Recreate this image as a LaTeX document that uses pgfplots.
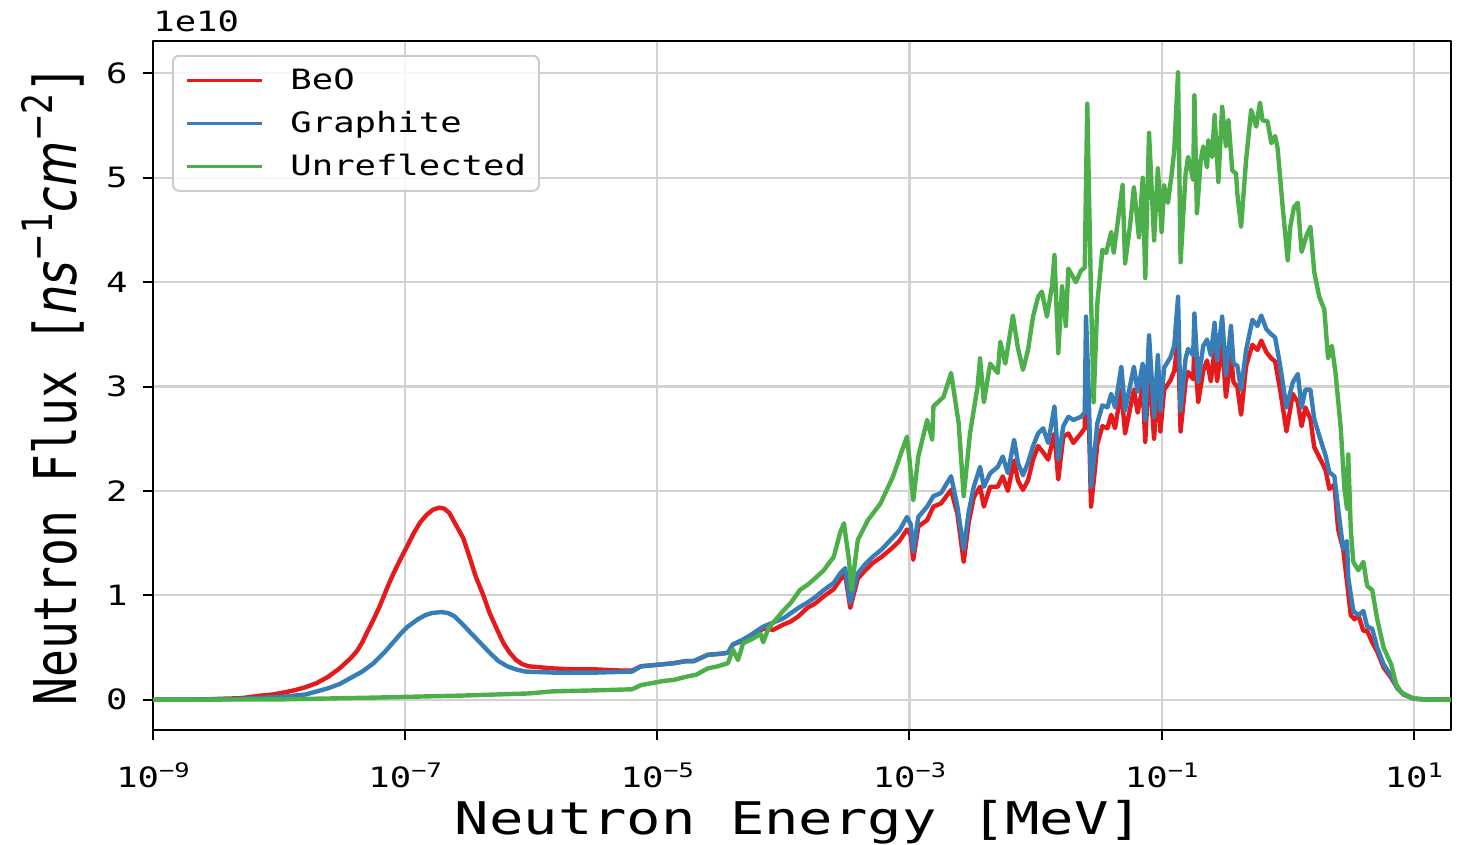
\documentclass[border=0pt]{standalone}
\usepackage{fontspec}
\setmainfont{DejaVu Sans Mono}[FakeStretch=1.27]
\newfontfamily\ylfont{DejaVu Sans Mono}
\newfontfamily\djs{DejaVu Sans}
\usepackage{pgfplots}
\pgfplotsset{compat=1.18}
\definecolor{cbeo}{HTML}{E41A1C}
\definecolor{cgra}{HTML}{377EB8}
\definecolor{cunr}{HTML}{4DAF4A}
\newcommand\pw[1]{10\raisebox{5pt}{\fontsize{10}{10}\selectfont #1}}
\newcommand\ysup[1]{\raisebox{0.42em}{\fontsize{16.5}{16.5}\selectfont\djs #1}}

\pgfplotstableread{
lx y
-9.00 0
-8.60 0.003
-8.30 0.015
-8.14 0.04
-8.05 0.05
-7.96 0.07
-7.88 0.09
-7.79 0.12
-7.70 0.16
-7.61 0.22
-7.52 0.30
-7.43 0.40
-7.38 0.47
-7.34 0.55
-7.30 0.65
-7.25 0.77
-7.20 0.90
-7.15 1.05
-7.10 1.19
-7.04 1.34
-6.98 1.48
-6.93 1.60
-6.88 1.70
-6.83 1.77
-6.78 1.82
-6.73 1.84
-6.69 1.83
-6.65 1.79
-6.60 1.68
-6.54 1.55
-6.49 1.37
-6.44 1.18
-6.38 1.00
-6.33 0.83
-6.27 0.67
-6.22 0.54
-6.17 0.45
-6.12 0.38
-6.07 0.34
-6.02 0.32
-5.83 0.30
-5.65 0.29
-5.48 0.29
-5.30 0.28
-5.20 0.28
-5.13 0.32
-4.95 0.34
-4.87 0.35
-4.77 0.37
-4.71 0.37
-4.60 0.43
-4.50 0.44
-4.44 0.45
-4.40 0.53
-4.33 0.56
-4.26 0.61
-4.16 0.68
-4.08 0.67
-4.00 0.72
-3.94 0.75
-3.88 0.80
-3.81 0.88
-3.75 0.92
-3.68 0.99
-3.60 1.06
-3.55 1.15
-3.51 1.20
-3.47 0.88
-3.41 1.16
-3.35 1.24
-3.29 1.31
-3.22 1.37
-3.15 1.44
-3.08 1.52
-3.02 1.63
-2.99 1.58
-2.97 1.34
-2.93 1.66
-2.86 1.72
-2.81 1.85
-2.75 1.88
-2.67 2.01
-2.62 1.78
-2.57 1.32
-2.53 1.70
-2.49 1.94
-2.44 2.04
-2.41 1.85
-2.36 2.04
-2.30 2.04
-2.26 2.14
-2.22 2.00
-2.17 2.29
-2.14 2.10
-2.10 2.01
-2.06 2.10
-2.02 2.30
-1.98 2.43
-1.94 2.37
-1.90 2.30
-1.85 2.55
-1.82 2.11
-1.78 2.52
-1.74 2.55
-1.70 2.46
-1.64 2.55
-1.61 2.60
-1.60 3.20
-1.58 2.80
-1.56 1.85
-1.53 2.20
-1.51 2.45
-1.47 2.62
-1.43 2.60
-1.40 2.73
-1.37 2.60
-1.32 2.97
-1.29 2.55
-1.22 2.97
-1.19 2.75
-1.15 3.00
-1.13 2.47
-1.10 3.20
-1.06 2.50
-1.03 3.08
-1.01 2.57
-0.98 2.97
-0.93 3.06
-0.90 3.15
-0.87 3.45
-0.85 2.57
-0.81 3.05
-0.79 3.14
-0.75 3.07
-0.74 3.40
-0.71 2.85
-0.67 3.15
-0.64 3.25
-0.61 3.05
-0.58 3.35
-0.56 3.05
-0.52 3.42
-0.49 2.90
-0.45 3.30
-0.43 3.04
-0.40 3.00
-0.37 2.73
-0.33 3.20
-0.28 3.40
-0.24 3.35
-0.21 3.44
-0.17 3.33
-0.13 3.27
-0.10 3.24
-0.06 2.97
-0.01 2.57
0.04 2.93
0.08 2.85
0.11 2.62
0.14 2.80
0.18 2.69
0.21 2.42
0.26 2.30
0.30 2.20
0.33 2.02
0.37 2.06
0.40 1.63
0.44 1.44
0.47 1.13
0.50 0.81
0.53 0.77
0.56 0.81
0.60 0.66
0.63 0.66
0.67 0.55
0.71 0.46
0.76 0.31
0.82 0.21
0.87 0.11
0.92 0.05
1.00 0.01
1.10 0.002
1.30 0.0
}\beo

\pgfplotstableread{
lx y
-9.00 0
-8.60 0.002
-8.30 0.008
-7.96 0.03
-7.79 0.05
-7.61 0.11
-7.52 0.15
-7.43 0.21
-7.34 0.27
-7.25 0.35
-7.16 0.46
-7.08 0.57
-7.03 0.64
-6.98 0.70
-6.90 0.77
-6.84 0.81
-6.79 0.83
-6.71 0.84
-6.66 0.83
-6.61 0.80
-6.55 0.73
-6.48 0.64
-6.40 0.54
-6.33 0.45
-6.26 0.37
-6.19 0.32
-6.12 0.29
-6.05 0.27
-5.83 0.26
-5.48 0.26
-5.20 0.27
-5.13 0.32
-4.95 0.34
-4.87 0.35
-4.77 0.37
-4.71 0.37
-4.60 0.43
-4.50 0.44
-4.44 0.45
-4.40 0.53
-4.33 0.57
-4.26 0.62
-4.16 0.70
-4.08 0.74
-4.00 0.78
-3.94 0.83
-3.88 0.88
-3.81 0.93
-3.75 0.98
-3.68 1.05
-3.60 1.12
-3.55 1.21
-3.51 1.26
-3.47 0.93
-3.41 1.21
-3.35 1.30
-3.29 1.37
-3.22 1.44
-3.15 1.53
-3.08 1.62
-3.02 1.75
-2.99 1.68
-2.97 1.42
-2.93 1.75
-2.86 1.85
-2.81 1.95
-2.75 1.98
-2.67 2.14
-2.62 1.85
-2.57 1.44
-2.53 1.80
-2.49 2.04
-2.44 2.23
-2.41 2.04
-2.36 2.17
-2.30 2.23
-2.26 2.33
-2.22 2.17
-2.17 2.49
-2.14 2.27
-2.10 2.15
-2.06 2.27
-2.02 2.43
-1.98 2.55
-1.94 2.60
-1.90 2.46
-1.85 2.81
-1.82 2.30
-1.78 2.62
-1.74 2.71
-1.70 2.68
-1.64 2.71
-1.61 2.75
-1.60 3.67
-1.58 3.00
-1.56 2.04
-1.53 2.40
-1.51 2.65
-1.47 2.82
-1.43 2.80
-1.40 2.93
-1.37 2.80
-1.32 3.19
-1.29 2.77
-1.22 3.19
-1.19 2.95
-1.15 3.22
-1.13 2.68
-1.10 3.49
-1.06 2.71
-1.03 3.30
-1.01 2.77
-0.98 3.18
-0.93 3.28
-0.90 3.39
-0.87 3.86
-0.85 2.77
-0.81 3.27
-0.79 3.36
-0.75 3.30
-0.74 3.70
-0.71 3.04
-0.67 3.39
-0.64 3.45
-0.61 3.30
-0.58 3.61
-0.56 3.25
-0.52 3.67
-0.49 3.11
-0.45 3.58
-0.43 3.22
-0.40 3.20
-0.37 2.97
-0.33 3.35
-0.28 3.64
-0.24 3.58
-0.21 3.68
-0.17 3.55
-0.13 3.50
-0.10 3.47
-0.06 3.20
-0.01 2.80
0.04 3.04
0.08 3.12
0.11 2.80
0.14 2.97
0.18 2.97
0.21 2.69
0.26 2.49
0.30 2.34
0.33 2.18
0.37 2.14
0.40 1.83
0.44 1.44
0.47 1.52
0.48 1.17
0.52 0.85
0.56 0.81
0.60 0.85
0.63 0.70
0.67 0.68
0.71 0.50
0.76 0.34
0.82 0.23
0.87 0.11
0.92 0.05
1.00 0.01
1.10 0.002
1.30 0.0
}\gra

\pgfplotstableread{
lx y
-9.00 0
-8.00 0.003
-7.25 0.02
-6.54 0.04
-6.02 0.06
-5.83 0.08
-5.48 0.09
-5.20 0.10
-5.13 0.14
-4.95 0.18
-4.87 0.19
-4.77 0.22
-4.69 0.24
-4.60 0.30
-4.52 0.32
-4.44 0.35
-4.40 0.48
-4.36 0.38
-4.32 0.54
-4.25 0.58
-4.18 0.63
-4.16 0.55
-4.12 0.68
-4.08 0.74
-4.01 0.84
-3.94 0.93
-3.87 1.05
-3.81 1.10
-3.76 1.15
-3.68 1.24
-3.60 1.37
-3.55 1.60
-3.52 1.69
-3.48 1.34
-3.46 1.05
-3.41 1.53
-3.33 1.72
-3.23 1.88
-3.13 2.14
-3.07 2.35
-3.02 2.52
-3.00 2.30
-2.97 1.91
-2.93 2.33
-2.86 2.68
-2.82 2.49
-2.81 2.81
-2.73 2.90
-2.67 3.13
-2.61 2.65
-2.57 1.95
-2.52 2.55
-2.46 3.00
-2.44 3.27
-2.41 2.85
-2.36 3.22
-2.30 3.13
-2.28 3.43
-2.24 3.22
-2.18 3.68
-2.14 3.37
-2.10 3.16
-2.06 3.35
-2.02 3.67
-1.98 3.86
-1.95 3.91
-1.91 3.67
-1.87 3.96
-1.85 4.26
-1.82 3.32
-1.79 3.96
-1.76 3.58
-1.74 4.13
-1.68 4.00
-1.64 4.11
-1.61 4.14
-1.59 5.71
-1.56 3.86
-1.54 2.85
-1.51 3.80
-1.47 4.31
-1.44 4.28
-1.40 4.48
-1.38 4.28
-1.31 4.93
-1.29 4.18
-1.25 4.55
-1.22 4.91
-1.18 4.43
-1.15 5.00
-1.13 4.04
-1.10 5.43
-1.06 4.40
-1.03 5.09
-1.00 4.48
-0.98 4.93
-0.95 4.76
-0.92 5.04
-0.90 5.26
-0.87 6.01
-0.85 4.19
-0.81 5.04
-0.79 5.20
-0.75 4.98
-0.74 5.79
-0.72 4.66
-0.69 5.17
-0.67 5.30
-0.64 5.10
-0.63 5.36
-0.60 5.20
-0.58 5.60
-0.55 4.96
-0.52 5.68
-0.49 5.30
-0.47 5.55
-0.44 5.07
-0.41 5.04
-0.40 4.85
-0.37 4.53
-0.33 5.17
-0.29 5.65
-0.25 5.49
-0.22 5.72
-0.20 5.55
-0.16 5.54
-0.13 5.33
-0.10 5.40
-0.08 5.28
-0.04 4.72
0.00 4.21
0.02 4.53
0.05 4.72
0.08 4.76
0.11 4.29
0.15 4.45
0.18 4.53
0.21 4.10
0.25 3.86
0.29 3.74
0.32 3.27
0.35 3.39
0.38 3.12
0.42 2.61
0.45 2.02
0.47 1.83
0.48 2.35
0.50 1.63
0.52 1.32
0.56 1.24
0.60 1.32
0.63 1.09
0.67 1.05
0.71 0.77
0.76 0.50
0.82 0.34
0.86 0.15
0.90 0.07
1.00 0.01
1.10 0.002
1.30 0.0
}\unr

\begin{document}
\begin{tikzpicture}
\path[use as bounding box] (0,0) rectangle (734pt,422.5pt);
\begin{axis}[
  at={(76.5pt,57.5pt)}, anchor=south west,
  scale only axis, width=649pt, height=344.5pt,
  xmin=-9, xmax=1.295, ymin=-0.29, ymax=6.31,
  clip mode=individual,
  xtick={-9,-7,-5,-3,-1,1},
  xticklabels={\pw{−9},\pw{−7},\pw{−5},\pw{−3},\pw{−1},\pw{1}},
  ytick={0,1,2,3,4,5,6},
  yticklabels={0,1,2,3,4,5,6},
  xtick pos=left, ytick pos=left,
  tick align=outside, major tick length=5pt,
  tick style={black, line width=1pt},
  axis line style={black, line width=1.25pt},
  grid=major,
  major grid style={gray!35, line width=1.1pt},
  ticklabel style={font=\fontsize{14}{14}\selectfont},
  xticklabel style={anchor=base, inner sep=0pt, yshift=-24pt},
  yticklabel style={anchor=east, inner sep=0pt, xshift=-7.5pt},
  every axis x label/.style={at={(axis description cs:0.4977,-0.1524)}, anchor=base, font=\fontsize{22.5}{22.5}\selectfont},
  every axis y label/.style={at={(axis description cs:-0.0586,0.5)}, rotate=90, anchor=base},
  xlabel={Neutron Energy [MeV]},
  ylabel={\scalebox{1}[1.27]{\fontsize{23.2}{23.2}\selectfont\ylfont Neutron Flux [{\djs\itshape ns}\ysup{−1}{\djs\itshape cm}\ysup{−2}]}},
  legend cell align=left,
  legend style={at={(axis description cs:0.0146,0.98)}, anchor=north west,
    draw=gray!40, line width=1pt, rounded corners=3pt, fill=white, fill opacity=0.8, text opacity=1,
    font=\fontsize{14}{14}\selectfont, inner xsep=6.5pt, inner ysep=1.5pt,
    nodes={inner sep=0pt}},
  legend image code/.code={\path[draw=none, fill=none] (0pt,-10.75pt) rectangle (51.5pt,10.75pt); \draw[#1, sharp corners, line width=1.5pt] (0pt,0pt) -- (37.5pt,0pt);},
  line join=round,
]
\addplot[cbeo, line width=2.2pt, no markers] table[x=lx,y=y] {\beo};
\addlegendentry{BeO}
\addplot[cgra, line width=2.2pt, no markers] table[x=lx,y=y] {\gra};
\addlegendentry{Graphite}
\addplot[cunr, line width=2.2pt, no markers] table[x=lx,y=y] {\unr};
\addlegendentry{Unreflected}
\node[anchor=base west, inner sep=0pt, font=\fontsize{14}{14}\selectfont] at (rel axis cs:0,1) [yshift=5pt] {1e10};
\end{axis}
\end{tikzpicture}
\end{document}
